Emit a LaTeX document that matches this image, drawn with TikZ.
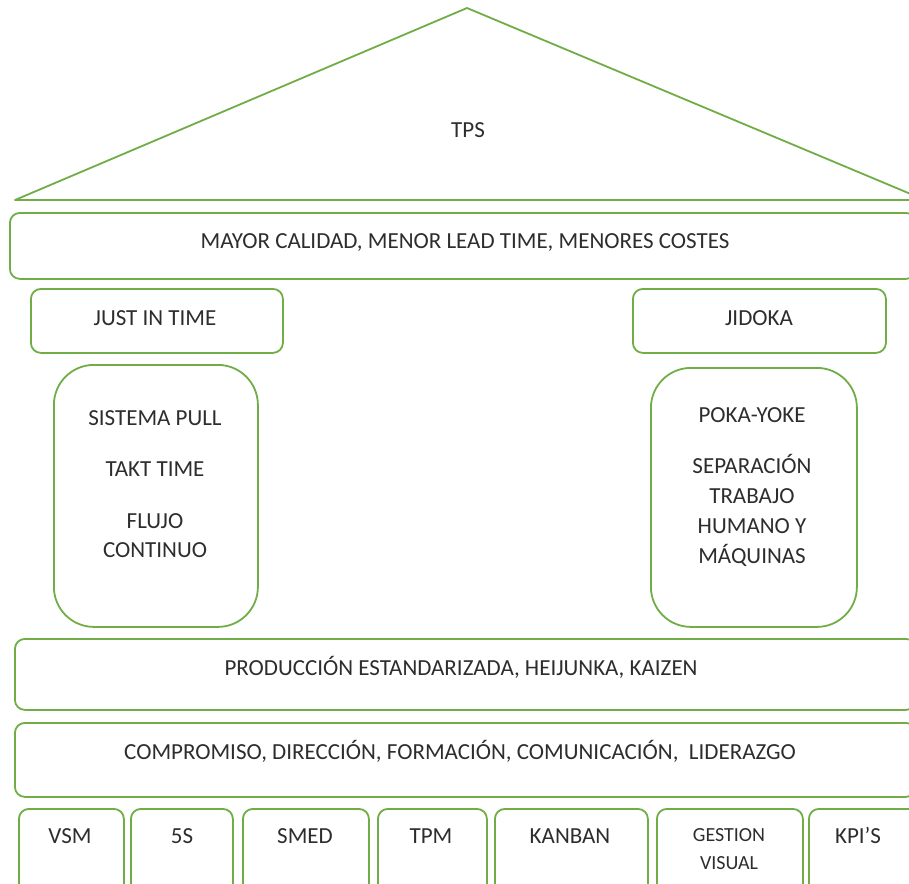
\documentclass[tikz,border=0pt]{standalone}
\usepackage{fontspec}
\setmainfont{Carlito}
\definecolor{leaf}{RGB}{112,173,71}
\definecolor{ink}{RGB}{45,45,45}
\begin{document}
\begin{tikzpicture}[x=1pt,y=-1pt,
  block/.style={draw=leaf,line width=1.8pt,rounded corners=10pt,inner sep=0pt,
    anchor=north west,minimum width=#1},
  pillar/.style={draw=leaf,line width=1.8pt,rounded corners=40pt,inner sep=0pt,
    anchor=north west},
  txt/.style={font=\fontsize{23}{29}\selectfont,text=ink,anchor=base,inner sep=0pt},
  small/.style={font=\fontsize{20}{28}\selectfont,text=ink,anchor=base,inner sep=0pt}]
\useasboundingbox (0,0) rectangle (909,883);
\clip (0,0) rectangle (909,883);

% roof
\coordinate (apex) at (467,8);
\coordinate (eaveL) at (15,200);
\coordinate (eaveR) at (925,200);
\draw[leaf,line width=1.8pt,line join=round] (eaveL) -- (apex) -- (eaveR) -- cycle;
\node[txt] (tps) at (468,137) {TPS};

% goals
\node[block=906pt,minimum height=66pt] (goals) at (9,212) {};
\node[txt] (goalsT) at (465,248) {MAYOR CALIDAD, MENOR LEAD TIME, MENORES COSTES};

% pillar heads
\node[block=252pt,minimum height=64pt] (jit) at (30,288) {};
\node[txt] (jitT) at (155,325) {JUST IN TIME};
\node[block=253pt,minimum height=64pt] (jid) at (632,288) {};
\node[txt] (jidT) at (759,325) {JIDOKA};

% pillars
\node[pillar,minimum width=204pt,minimum height=262pt] (pl) at (53,364) {};
\node[txt] (pl1) at (155,425) {SISTEMA PULL};
\node[txt] (pl2) at (155,476) {TAKT TIME};
\node[txt] (pl3) at (155,528) {FLUJO};
\node[txt] (pl4) at (155,557) {CONTINUO};

\node[pillar,minimum width=206pt,minimum height=259pt] (pr) at (650,367) {};
\node[txt] (pr1) at (752,422) {POKA-YOKE};
\node[txt] (pr2) at (752,473) {SEPARACIÓN};
\node[txt] (pr3) at (752,503) {TRABAJO};
\node[txt] (pr4) at (752,533) {HUMANO Y};
\node[txt] (pr5) at (752,563) {MÁQUINAS};

% foundations
\node[block=901pt,minimum height=71pt] (prod) at (14,638) {};
\node[txt] (prodT) at (461,675) {PRODUCCIÓN ESTANDARIZADA, HEIJUNKA, KAIZEN};
\node[block=901pt,minimum height=74pt] (comp) at (14,722) {};
\node[txt] (compT) at (460,759) {COMPROMISO, DIRECCIÓN, FORMACIÓN, COMUNICACIÓN,\ \ LIDERAZGO};

% tools
\node[block=105pt,minimum height=90pt] (vsm) at (18,808) {};
\node[txt] (vsmT) at (70,843) {VSM};
\node[block=102pt,minimum height=90pt] (ss) at (130,808) {};
\node[txt] (ssT) at (182,843) {5S};
\node[block=126pt,minimum height=90pt] (smed) at (242,808) {};
\node[txt] (smedT) at (305,843) {SMED};
\node[block=109pt,minimum height=90pt] (tpm) at (377,808) {};
\node[txt] (tpmT) at (431,843) {TPM};
\node[block=153pt,minimum height=90pt] (kan) at (494,808) {};
\node[txt] (kanT) at (570,843) {KANBAN};
\node[block=146pt,minimum height=90pt] (gv) at (656,808) {};
\node[small] (gv1) at (729,841) {GESTION};
\node[small] (gv2) at (729,869) {VISUAL};
\node[block=110pt,minimum height=90pt] (kpi) at (808,808) {};
\node[txt] (kpiT) at (858,843) {KPI’S};
\end{tikzpicture}
\end{document}
